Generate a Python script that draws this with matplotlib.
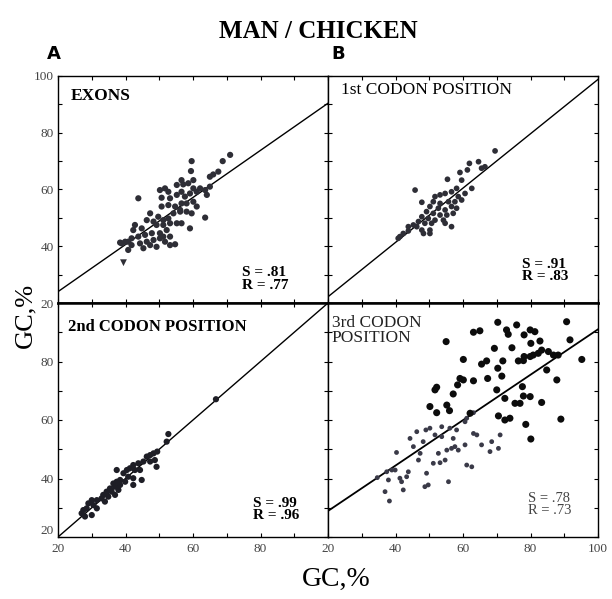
import matplotlib
matplotlib.use('Agg')
import matplotlib.pyplot as plt

# GC values (man = x, chicken = y)

# A - exons
exons_x = [59.6, 68.8, 71.0, 59.4, 65.0, 66.0, 67.5, 56.6, 57.1, 58.6, 60.1, 43.8, 50.2, 51.7, 52.7,
           50.7, 53.2, 55.2, 56.6, 57.6, 59.1, 61.1, 62.1, 63.6, 64.1, 65.0, 50.7, 52.7, 54.7, 56.6,
           58.1, 60.1, 61.1, 63.6, 54.2, 56.2, 58.1, 59.6, 47.3, 46.3, 48.3, 49.7, 51.2, 52.7, 49.2,
           51.2, 53.2, 55.2, 56.6, 59.1, 42.8, 42.3, 44.8, 45.8, 47.8, 50.2, 52.2, 43.8, 41.8, 40.8,
           39.9, 41.8, 44.3, 46.3, 48.3, 50.2, 51.7, 53.2, 54.7, 47.3, 49.2, 38.9, 45.3, 56.2, 55.2,
           60.1, 53.2, 51.2, 38.4, 40.8]
exons_y = [70.0, 70.0, 72.2, 66.5, 64.5, 65.3, 66.3, 63.3, 61.8, 62.2, 60.4, 56.9, 59.8, 60.4, 59.2,
           57.1, 56.9, 58.1, 59.2, 57.5, 58.6, 59.2, 60.4, 59.8, 58.1, 61.0, 54.0, 54.5, 54.0, 55.1,
           55.1, 55.7, 54.0, 50.1, 51.6, 52.2, 52.2, 51.6, 51.6, 49.2, 48.7, 50.4, 49.2, 49.8, 47.5,
           47.5, 48.1, 48.1, 48.1, 46.3, 47.5, 45.7, 46.3, 44.0, 44.6, 44.6, 45.7, 43.4, 42.8, 41.6,
           41.6, 40.4, 41.0, 41.6, 42.2, 42.8, 41.6, 40.4, 40.7, 40.4, 39.8, 41.0, 39.3, 52.8, 61.6,
           63.3, 43.4, 43.4, 41.3, 38.7]
exons_odd_x = [39.4]
exons_odd_y = [34.2]

# B - 1st codon position
pos1_x = [69.5, 61.9, 64.6, 61.3, 59.1, 65.5, 66.5, 55.4, 59.6, 45.8, 62.6, 58.1, 56.6, 54.7, 53.2,
          51.7, 58.6, 60.6, 47.8, 51.2, 53.2, 55.7, 57.6, 59.6, 50.2, 52.7, 54.7, 56.6, 58.1, 49.2,
          51.2, 53.2, 55.2, 57.1, 47.8, 49.7, 51.7, 54.2, 46.8, 48.7, 50.7, 45.3, 43.8, 46.3, 47.8,
          50.2, 54.7, 48.3, 50.2, 42.3, 41.3, 43.8, 56.6, 40.8]
pos1_y = [73.6, 69.2, 69.8, 66.9, 66.0, 67.5, 68.0, 63.6, 63.3, 59.8, 60.4, 60.4, 59.2, 58.6, 58.1,
          57.5, 57.5, 58.6, 55.5, 55.7, 55.1, 55.7, 55.7, 56.3, 54.0, 53.4, 52.8, 54.0, 53.4, 52.2,
          51.6, 51.0, 51.0, 51.6, 50.4, 49.8, 49.2, 49.2, 48.7, 48.1, 48.1, 47.5, 46.9, 46.9, 45.7,
          45.7, 48.1, 44.5, 44.5, 44.5, 43.4, 45.4, 46.9, 42.8]

# 2nd codon position
pos2_x = [52.7, 52.2, 49.4, 48.3, 47.3, 46.3, 48.7, 49.2, 47.3, 45.3, 43.8, 42.3, 44.3, 42.8, 41.3,
          40.4, 39.4, 37.4, 40.8, 42.3, 44.8, 39.9, 38.4, 37.4, 36.4, 38.4, 42.3, 36.9, 35.4, 37.9,
          35.9, 34.4, 33.4, 34.9, 36.9, 32.9, 31.5, 33.9, 30.0, 29.0, 30.5, 28.5, 31.5, 27.5, 30.0,
          27.0, 28.0, 66.8]
pos2_y = [55.2, 52.6, 49.2, 48.6, 48.0, 47.5, 46.3, 44.0, 45.8, 45.8, 45.2, 44.6, 42.9, 42.9, 43.5,
          42.9, 41.8, 42.9, 40.6, 40.1, 39.5, 38.9, 39.5, 38.9, 38.3, 37.8, 37.8, 37.2, 36.6, 36.1,
          35.5, 35.5, 34.4, 33.8, 34.4, 33.2, 32.6, 32.1, 32.6, 31.5, 30.9, 29.8, 29.8, 29.2, 27.5,
          28.1, 27.0, 67.1]

# 3rd codon position - dark (high GC3) points
pos3_hi_x = [70.3, 75.9, 90.7, 72.9, 73.4, 78.1, 79.9, 81.3, 63.1, 65.0, 55.0, 80.1, 82.8, 91.7, 69.3,
             74.5, 83.3, 85.3, 80.8, 82.3, 78.1, 86.8, 88.2, 60.1, 67.0, 65.5, 71.8, 76.4, 77.9, 79.9,
             95.2, 70.3, 84.8, 59.1, 60.1, 67.3, 71.5, 63.1, 58.4, 87.8, 52.2, 51.7, 57.1, 70.0, 77.6,
             72.4, 77.9, 79.9, 83.3, 75.4, 76.9, 50.2, 55.2, 52.2, 56.0, 62.1, 70.5, 72.4, 73.9, 89.0,
             78.6, 80.1]
pos3_hi_y = [93.4, 92.5, 93.6, 90.8, 89.3, 89.1, 90.8, 90.2, 90.0, 90.5, 86.8, 86.2, 87.0, 87.4, 84.5,
             84.7, 83.9, 83.4, 82.2, 82.8, 81.7, 82.2, 82.2, 80.7, 80.2, 79.1, 80.2, 80.2, 80.3, 81.7,
             80.7, 77.7, 77.1, 74.2, 73.7, 74.2, 75.0, 73.4, 72.0, 73.7, 71.2, 70.3, 68.9, 70.3, 71.4,
             67.4, 68.2, 68.0, 66.0, 65.7, 65.7, 64.6, 65.1, 62.5, 63.2, 62.3, 61.4, 60.0, 60.6, 60.3,
             58.5, 53.5]
# 3rd codon position - lighter (low GC3) points
pos3_lo_x = [40.3, 34.6, 37.4, 37.9, 38.9, 41.8, 42.3, 36.9, 38.2, 43.8, 44.3, 45.3, 46.3, 47.3, 48.2,
             49.0, 50.2, 46.8, 49.2, 48.7, 49.7, 51.2, 52.7, 51.7, 53.7, 54.7, 55.7, 56.1, 57.1, 56.6,
             57.6, 58.6, 58.1, 60.6, 61.1, 62.6, 60.6, 63.1, 64.1, 65.5, 68.0, 68.5, 71.0, 70.5, 53.7,
             55.2, 53.2, 43.3, 41.3, 39.9, 61.1, 63.1]
pos3_lo_y = [48.9, 40.3, 42.3, 39.5, 42.9, 38.9, 36.1, 35.5, 32.3, 42.3, 53.7, 50.9, 56.0, 48.6, 52.6,
             56.6, 57.2, 46.3, 41.8, 37.2, 37.8, 45.2, 48.6, 54.9, 57.7, 46.3, 38.9, 57.2, 53.7, 50.3,
             50.9, 49.7, 56.6, 51.5, 44.6, 44.0, 59.4, 55.4, 54.9, 51.5, 49.2, 52.6, 54.9, 50.3, 54.3,
             49.7, 45.4, 40.6, 40.1, 42.9, 60.6, 62.5]

# regression lines, value at GC=20 and GC=100
fit_x = [20, 100]
exons_fit = [24.0, 90.4]
pos1_fit = [22.2, 98.8]
pos2_fit = [20.0, 100.0]
pos3_fit = [28.9, 91.0]

stats = {'A': ('S = .81', 'R = .77'), 'B': ('S = .91', 'R = .83'),
         'C': ('S = .99', 'R = .96'), 'D': ('S = .78', 'R = .73')}

SERIF = ['Liberation Serif', 'DejaVu Serif']
DOT = '#2e2e36'

fig = plt.figure(figsize=(6.12, 5.99), dpi=100)

W = 270 / 612.
H_TOP = 227 / 599.
H_BOT = 234 / 599.
ax_a = fig.add_axes([58 / 612., 296 / 599., W, H_TOP])
ax_b = fig.add_axes([328 / 612., 296 / 599., W, H_TOP])
ax_c = fig.add_axes([58 / 612., 62 / 599., W, H_BOT])
ax_d = fig.add_axes([328 / 612., 62 / 599., W, H_BOT])

for ax in (ax_a, ax_b, ax_c, ax_d):
    ax.set_xlim(20, 100)
    ax.set_ylim(20, 100)
    ax.set_xticks(range(20, 101, 10))
    ax.set_yticks(range(20, 101, 10))
    ax.tick_params(direction='in', length=3, width=0.8, top=True, right=True,
                   labelsize=9.5, labelcolor='#444444')
    ax.tick_params(axis='x', pad=4)
    ax.tick_params(axis='y', pad=3)
    for s in ax.spines.values():
        s.set_linewidth(1.0)
    ax.set_xticklabels([])
    ax.set_yticklabels([])

# tick labels only where the original has them
ax_a.set_yticklabels(['20', '', '40', '', '60', '', '80', '', '100'])
ax_c.set_yticklabels(['20', '', '40', '', '60', '', '80', '', ''])
ax_c.set_xticklabels(['20', '', '40', '', '60', '', '80', '', ''])
ax_d.set_xticklabels(['20', '', '40', '', '60', '', '80', '', '100'])
for ax in (ax_a, ax_c, ax_d):
    for lab in ax.get_xticklabels() + ax.get_yticklabels():
        lab.set_family(SERIF)
# the two "20" labels in the lower-left corner sit close together
ax_c.get_yticklabels()[0].set_va('bottom')

ax_a.spines['bottom'].set_linewidth(1.8)
ax_b.spines['bottom'].set_linewidth(1.8)
ax_c.spines['top'].set_linewidth(1.8)
ax_d.spines['top'].set_linewidth(1.8)

# A
ax_a.plot(fit_x, exons_fit, color='black', lw=1.0)
ax_a.scatter(exons_x, exons_y, s=20, color=DOT, edgecolors='none', zorder=3)
ax_a.scatter(exons_odd_x, exons_odd_y, s=24, marker='v', color=DOT, edgecolors='none', zorder=3)
ax_a.text(0.047, 0.947, 'EXONS', transform=ax_a.transAxes, family=SERIF, fontsize=12.5,
          fontweight='bold', va='top', ha='left')

# B
ax_b.plot(fit_x, pos1_fit, color='black', lw=1.0)
ax_b.scatter(pos1_x, pos1_y, s=17, color=DOT, edgecolors='none', zorder=3)
ax_b.text(0.047, 0.975, '1st CODON POSITION', transform=ax_b.transAxes, family=SERIF,
          fontsize=12.5, va='top', ha='left')

# 2nd
ax_c.plot(fit_x, pos2_fit, color='black', lw=1.0)
ax_c.scatter(pos2_x, pos2_y, s=20, color='#1e1e26', edgecolors='none', zorder=3)
ax_c.text(0.038, 0.93, '2nd CODON POSITION', transform=ax_c.transAxes, family=SERIF,
          fontsize=12, fontweight='bold', va='top', ha='left')

# 3rd
ax_d.plot(fit_x, pos3_fit, color='black', lw=1.3)
ax_d.scatter(pos3_lo_x, pos3_lo_y, s=12, color='#3a3a48', edgecolors='none', zorder=3)
ax_d.scatter(pos3_hi_x, pos3_hi_y, s=26, color='#0c0c0c', edgecolors='none', zorder=3)
ax_d.text(0.014, 0.95, '3rd CODON\nPOSITION', transform=ax_d.transAxes, family=SERIF,
          fontsize=12.5, va='top', ha='left', linespacing=0.95, color='#222222')

# S / R boxes
pos = {'A': (ax_a, 0.68, 0.05), 'B': (ax_b, 0.717, 0.088),
       'C': (ax_c, 0.722, 0.064), 'D': (ax_d, 0.741, 0.085)}
for k, (ax, x, y) in pos.items():
    bold = k != 'D'
    ax.text(x, y, stats[k][0] + '\n' + stats[k][1], transform=ax.transAxes, family=SERIF,
            fontsize=11 if bold else 10.5, fontweight='bold' if bold else 'normal',
            va='bottom', ha='left', linespacing=0.95,
            color='black' if bold else '#444444')

# figure labels
fig.text(0.52, 0.948, 'MAN / CHICKEN', family=SERIF, fontsize=18, fontweight='bold',
         ha='center', va='center')
fig.text(0.077, 0.925, 'A', family='DejaVu Sans', fontsize=13, fontweight='bold',
         ha='left', va='top')
fig.text(0.541, 0.925, 'B', family='DejaVu Sans', fontsize=13, fontweight='bold',
         ha='left', va='top')
fig.text(0.549, 0.032, 'GC,%', family=SERIF, fontsize=20, ha='center', va='center')
fig.text(0.042, 0.474, 'GC,%', family=SERIF, fontsize=19, ha='center', va='center',
         rotation=90)

plt.savefig('out.png', dpi=100)
